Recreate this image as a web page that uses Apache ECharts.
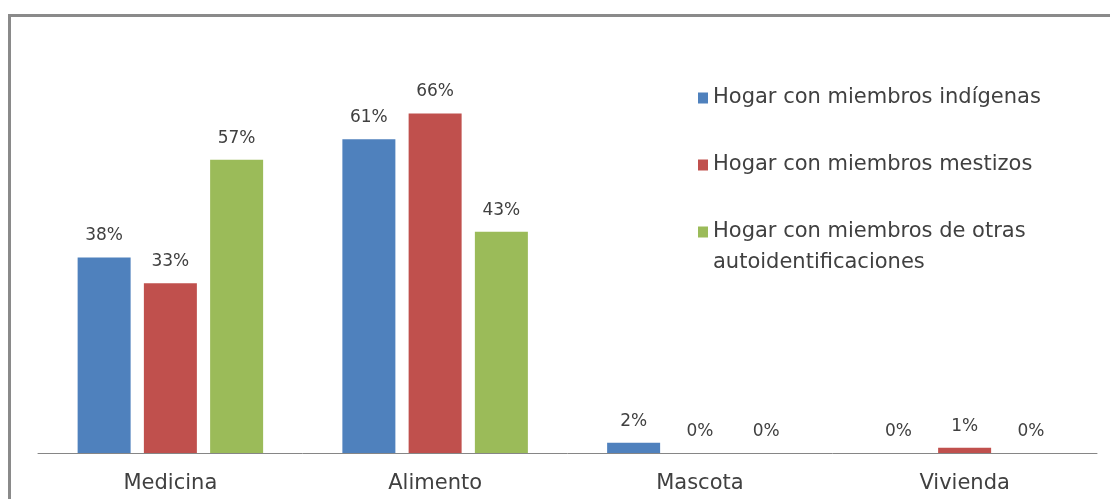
<!DOCTYPE html>
<html><head><meta charset="utf-8">
<script src="https://cdn.jsdelivr.net/npm/echarts@6/dist/echarts.min.js"></script>
<style>html,body{margin:0;padding:0;background:#fff}#c{width:1110px;height:499px}</style>
</head><body><div id="c"></div>
<script>
const categories = ['Medicina', 'Alimento', 'Mascota', 'Vivienda'];
const seriesNames = ['Hogar con miembros indígenas', 'Hogar con miembros mestizos', 'Hogar con miembros de otras autoidentificaciones'];
const indigenas = [38, 61, 2, 0];
const mestizos = [33, 66, 0, 1];
const otras = [57, 43, 0, 0];
const colors = ['#4F81BD', '#C0504D', '#9BBB59'];
const FONT = 'DejaVu Sans';
const TXT = '#404040';

const chart = echarts.init(document.getElementById('c'), null, {renderer: 'canvas'});
const values = [indigenas, mestizos, otras];
function legendFor(i, top) {
  return {
    show: true, orient: 'vertical', left: 693, top: top,
    itemWidth: 10, itemHeight: 11, itemGap: 0,
    icon: 'rect',
    data: [seriesNames[i]],
    formatter: n => n === seriesNames[2] ? '\nHogar con miembros de otras\nautoidentificaciones' : n,
    textStyle: {fontFamily: FONT, fontSize: 21, color: TXT, lineHeight: 31}
  };
}
chart.setOption({
  animation: false,
  backgroundColor: '#fff',
  graphic: [{type: 'rect', shape: {x: 9.5, y: 15.5, width: 1120, height: 520}, style: {fill: 'none', stroke: '#8a8a8a', lineWidth: 3}, silent: true, z: -1}],
  legend: [
    legendFor(0, 77.5),
    legendFor(1, 144.5),
    legendFor(2, 180.5)
  ],
  grid: {left: 38, right: 13, top: 93, bottom: 46},
  xAxis: {
    type: 'category', data: categories,
    axisLine: {lineStyle: {color: '#868686', width: 1}},
    axisTick: {show: false},
    axisLabel: {fontFamily: FONT, fontSize: 21, color: TXT, margin: 20}
  },
  yAxis: {type: 'value', min: 0, max: 70, show: false, splitLine: {show: false}},
  series: values.map((v, i) => ({
    name: seriesNames[i], type: 'bar', data: v,
    barWidth: 53, barGap: '25%',
    itemStyle: {color: colors[i]},
    label: {show: true, position: 'top', distance: 13, formatter: p => p.value + '%', fontFamily: FONT, fontSize: 17, color: TXT}
  }))
});
</script></body></html>
